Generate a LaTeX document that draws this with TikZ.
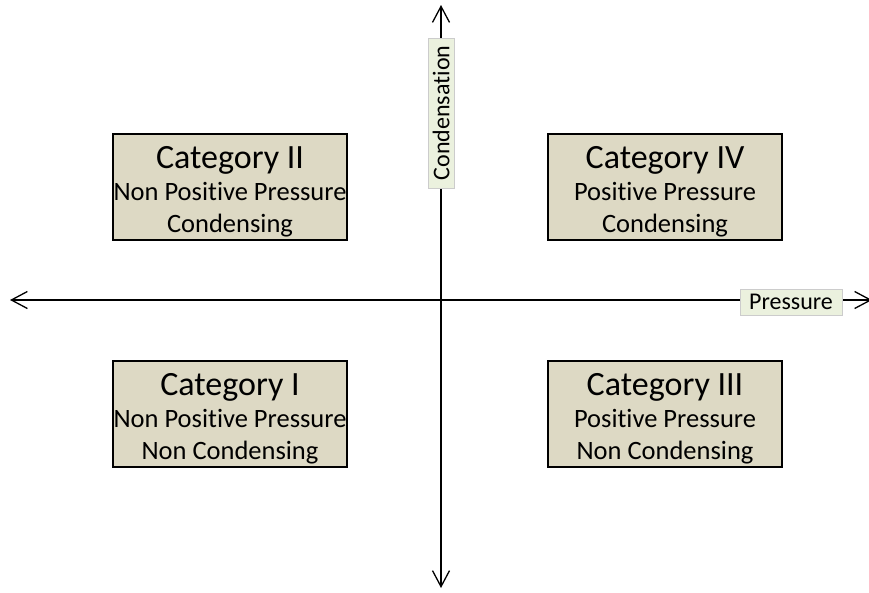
\documentclass[tikz,border=0pt]{standalone}
\usepackage{fontspec}
\setmainfont{Carlito}[Ligatures=NoCommon]
\usetikzlibrary{arrows.meta,shadows}

\definecolor{catfill}{HTML}{DDD9C4}
\definecolor{labfill}{HTML}{EBF1DE}

\tikzset{
	catbox/.style={draw=black, line width=1.5pt, fill=catfill, minimum width=234pt, minimum height=106pt, inner sep=0pt, align=center, font=\fontsize{26.5}{32}\selectfont, drop shadow={shadow xshift=1pt, shadow yshift=-1pt, fill=black, opacity=1}},
	axislabel/.style={draw=black!20, line width=0.8pt, fill=labfill, minimum height=26pt, inner xsep=5pt, inner ysep=0pt, font=\fontsize{24}{26}\selectfont},
	axis/.style={line width=1.3pt, -{Straight Barb[length=16pt, width=17pt, line width=1.3pt]}}
}
\newcommand{\cattitle}[1]{{\fontsize{34}{36}\selectfont\rule{0pt}{32pt}#1}\\}

\begin{document}
\begin{tikzpicture}[x=1pt, y=-1pt]
				\useasboundingbox (0, 0) rectangle (869, 592);
				% axes
				\coordinate (origin) at (441, 300);
				\coordinate (left) at (10, 300);
				\coordinate (right) at (872, 300);
				\coordinate (top) at (441, 5);
				\coordinate (bottom) at (441, 588);
				\draw[axis] (origin) -- (left);
				\draw[axis] (origin) -- (right);
				\draw[axis] (origin) -- (top);
				\draw[axis] (origin) -- (bottom);
				\node[axislabel, minimum width=102pt] (pressure) at (791, 302) {Pressure};
				\node[axislabel, rotate=90, minimum width=150pt] (condensation) at (441, 113) {Condensation};
				% categories
				\node[catbox] (cat2) at (230, 187) {\cattitle{Category II}Non Positive Pressure\\Condensing};
				\node[catbox] (cat4) at (665, 187) {\cattitle{Category IV}Positive Pressure\\Condensing};
				\node[catbox] (cat1) at (230, 414) {\cattitle{Category I}Non Positive Pressure\\Non Condensing};
				\node[catbox] (cat3) at (665, 414) {\cattitle{Category III}Positive Pressure\\Non Condensing};
			\end{tikzpicture}
\end{document}
